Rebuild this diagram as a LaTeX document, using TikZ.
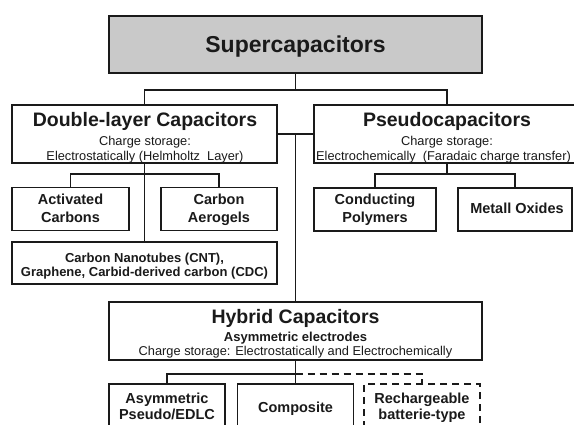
\documentclass[tikz,border=0pt]{standalone}
\usepackage{fontspec}
\setmainfont{Liberation Sans}
\definecolor{ink}{HTML}{1A1A1A}
\definecolor{boxgray}{HTML}{C9C9C9}
\begin{document}
\begin{tikzpicture}[x=1pt,y=-1pt,
  box/.style={draw=ink, line width=1.8pt, inner sep=0pt, fill=white},
  dbox/.style={box, dashed, dash pattern=on 7pt off 5pt},
  wire/.style={draw=ink, line width=1.5pt},
  dwire/.style={wire, dash pattern=on 7pt off 5pt},
  bigt/.style={anchor=base, text=ink, inner sep=0pt, font=\fontsize{23}{27}\selectfont\bfseries},
  ttl/.style={anchor=base, text=ink, inner sep=0pt, font=\fontsize{19.5}{23}\selectfont\bfseries},
  sub/.style={anchor=base, text=ink, inner sep=0pt, font=\fontsize{12.8}{15}\selectfont},
  subb/.style={anchor=base, text=ink, inner sep=0pt, font=\fontsize{13}{15}\selectfont\bfseries},
  leaf/.style={anchor=base, text=ink, inner sep=0pt, font=\fontsize{14.5}{17}\selectfont\bfseries}
]
\useasboundingbox (0,0) rectangle (574,425);
\clip (0,0) rectangle (574,425);
\fill[white] (0,0) rectangle (574,425);

% boxes
\node[box, fill=boxgray, minimum width=373pt, minimum height=57pt] (sup) at (295.5,44.5) {};
\node[box, minimum width=265pt, minimum height=58pt] (dl) at (144.5,134) {};
\node[box, minimum width=266pt, minimum height=58pt] (pc) at (447,134) {};
\node[box, minimum width=117pt, minimum height=43pt] (ac) at (70.5,209) {};
\node[box, minimum width=116pt, minimum height=43pt] (ca) at (219,209) {};
\node[box, minimum width=265pt, minimum height=42pt] (cnt) at (144.5,263) {};
\node[box, minimum width=122pt, minimum height=43pt] (cp) at (375,209.5) {};
\node[box, minimum width=114pt, minimum height=43pt] (mo) at (515,209.5) {};
\node[box, minimum width=373pt, minimum height=58pt] (hy) at (295.5,331) {};
\node[box, minimum width=116pt, minimum height=43pt] (as) at (167,405.5) {};
\node[box, minimum width=116pt, minimum height=43pt] (co) at (295.5,405.5) {};
\node[dbox, minimum width=116pt, minimum height=43pt] (rb) at (422,405.5) {};

% connectors
\draw[wire] (sup.south) -- ++(0,16) coordinate (j1);
\draw[wire] (dl.north) |- (j1) -| (pc.north);
\draw[wire] (dl.east) -- (pc.west);
\draw[wire] (dl.east -| hy.north) -- (hy.north);
\draw[wire] (dl.south) -- (cnt.north);
\path (dl.south) ++(0,10) coordinate (j2);
\draw[wire] (ac.north) |- (j2) -| (ca.north);
\draw[wire] (pc.south) -- ++(0,10) coordinate (j3);
\draw[wire] (cp.north) |- (j3) -| (mo.north);
\draw[wire] (hy.south) -- (co.north);
\path (hy.south) ++(0,13) coordinate (j4);
\draw[wire] (as.north) |- (j4);
\draw[dwire] (j4) -| (rb.north);

% texts
\node[bigt] (supt) at (295.5,53) {Supercapacitors};

\node[ttl] (dlt) at (145,126.5) {Double-layer Capacitors};
\node[sub] (dls1) at (145,145.5) {Charge storage:};
\node[sub] (dls2) at (145,160.5) {Electrostatically (Helmholtz\ \ Layer)};

\node[ttl] (pct) at (447,126.5) {Pseudocapacitors};
\node[sub] (pcs1) at (447,145.5) {Charge storage:};
\node[sub, anchor=base west] (pcs2) at (316,160.5) {Electrochemically\ \ (Faradaic charge transfer)};

\node[leaf] (act1) at (70.5,205) {Activated};
\node[leaf] (act2) at (70.5,222.5) {Carbons};
\node[leaf] (cat1) at (219,205) {Carbon};
\node[leaf] (cat2) at (219,222.5) {Aerogels};
\node[subb] (cntt1) at (144.5,262.5) {Carbon Nanotubes (CNT),};
\node[subb] (cntt2) at (144.5,276.5) {Graphene, Carbid-derived carbon (CDC)};
\node[leaf] (cpt1) at (375,205) {Conducting};
\node[leaf] (cpt2) at (375,222.5) {Polymers};
\node[leaf] (mot) at (517,213.5) {Metall Oxides};

\node[ttl] (hyt) at (295.5,323.5) {Hybrid Capacitors};
\node[subb] (hys1) at (295.5,341.5) {Asymmetric electrodes};
\node[sub] (hys2) at (295.5,355.5) {Charge storage: Electrostatically and Electrochemically};

\node[leaf] (ast1) at (167,403) {Asymmetric};
\node[leaf] (ast2) at (167,420) {Pseudo/EDLC};
\node[leaf] (cot) at (295.5,413) {Composite};
\node[leaf] (rbt1) at (422,403) {Rechargeable};
\node[leaf] (rbt2) at (422,420) {batterie-type};
\end{tikzpicture}
\end{document}
